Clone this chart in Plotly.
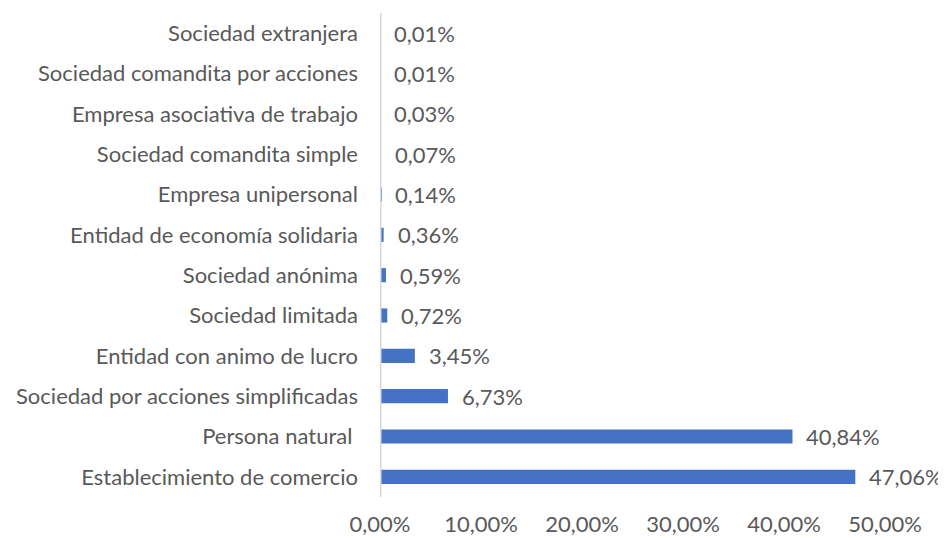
import plotly.graph_objects as go

# top-to-bottom order as seen in the chart
categorias = [
    "Sociedad extranjera",
    "Sociedad comandita por acciones",
    "Empresa asociativa de trabajo",
    "Sociedad comandita simple",
    "Empresa unipersonal",
    "Entidad de economía solidaria",
    "Sociedad anónima",
    "Sociedad limitada",
    "Entidad con animo de lucro",
    "Sociedad por acciones simplificadas",
    "Persona natural\u00a0",
    "Establecimiento de comercio",
]
porcentajes = [0.01, 0.01, 0.03, 0.07, 0.14, 0.36, 0.59, 0.72, 3.45, 6.73, 40.84, 47.06]
ticks_x = [0, 10, 20, 30, 40, 50]

fracs = [p / 100 for p in porcentajes]
gris = "#595959"
fuente = "Lato"
tam = 22

fig = go.Figure(go.Bar(
    x=fracs,
    y=categorias,
    orientation="h",
    marker=dict(color="#4472C4", opacity=0.999, line=dict(width=0)),
    hoverinfo="skip",
))

for c, v in zip(categorias, fracs):
    fig.add_annotation(
        x=v, y=c, text=f"{v:.2%}".replace(".", ","),
        xanchor="left", yanchor="middle", xshift=12,
        showarrow=False, font=dict(family=fuente, size=tam, color=gris),
    )

# vertical axis line drawn on top of the bars (hides the sub-pixel ones, like the original)
fig.add_shape(type="line", x0=0, x1=0, xref="x", y0=0, y1=1, yref="paper",
              line=dict(color="#D9D9D9", width=3), layer="above")

# page body has an 8px margin, so the figure is a bit smaller than the window
fig.update_layout(
    width=938, height=530,
    margin=dict(l=372, r=61, t=5, b=41, autoexpand=False),
    plot_bgcolor="white", paper_bgcolor="white",
    separators=",.",
    bargap=0.65,
    showlegend=False,
    font=dict(family=fuente, size=tam, color=gris),
)
fig.update_xaxes(
    range=[0, 0.5],
    tickvals=[t / 100 for t in ticks_x],
    tickformat=".2%",
    showgrid=False, zeroline=False, showline=False,
    ticklabelstandoff=12, automargin=False,
)
fig.update_yaxes(
    categoryorder="array", categoryarray=categorias[::-1],
    showgrid=False, zeroline=False, showline=False,
    ticklabelstandoff=21, automargin=False,
)

fig.write_html("out.html")
